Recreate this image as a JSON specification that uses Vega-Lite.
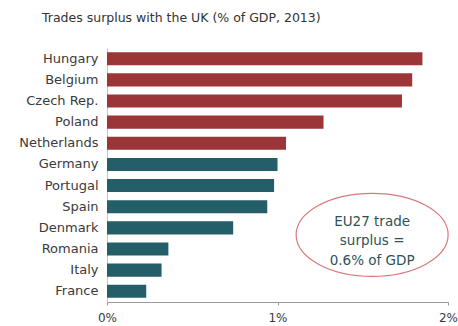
{
  "$schema": "https://vega.github.io/schema/vega-lite/v6.json",
  "width": 341,
  "height": 254,
  "autosize": "none",
  "padding": {"left": 107, "top": 48, "right": 10, "bottom": 24},
  "background": "white",
  "config": {"view": {"stroke": null}, "font": "DejaVu Sans"},
  "title": {
    "text": "Trades surplus with the UK (% of GDP, 2013)",
    "anchor": "start",
    "frame": "group",
    "dx": -65,
    "offset": 24,
    "fontSize": 12.5,
    "fontWeight": "normal",
    "color": "#333333"
  },
  "datasets": {
    "bars": [
      {"country": "Hungary", "value": 1.85, "group": "high"},
      {"country": "Belgium", "value": 1.79, "group": "high"},
      {"country": "Czech Rep.", "value": 1.73, "group": "high"},
      {"country": "Poland", "value": 1.27, "group": "high"},
      {"country": "Netherlands", "value": 1.05, "group": "high"},
      {"country": "Germany", "value": 1.0, "group": "low"},
      {"country": "Portugal", "value": 0.98, "group": "low"},
      {"country": "Spain", "value": 0.94, "group": "low"},
      {"country": "Denmark", "value": 0.74, "group": "low"},
      {"country": "Romania", "value": 0.36, "group": "low"},
      {"country": "Italy", "value": 0.32, "group": "low"},
      {"country": "France", "value": 0.23, "group": "low"}
    ],
    "note": [
      {"country": "Denmark", "value": 1.555, "label": ["EU27 trade", "surplus =", "0.6% of GDP"]}
    ]
  },
  "encoding": {
    "y": {
      "field": "country",
      "type": "nominal",
      "scale": {
        "domain": ["Hungary", "Belgium", "Czech Rep.", "Poland", "Netherlands", "Germany", "Portugal", "Spain", "Denmark", "Romania", "Italy", "France"],
        "paddingInner": 0.38,
        "paddingOuter": 0.2
      },
      "axis": {
        "title": null,
        "ticks": false,
        "labelFontSize": 13,
        "labelColor": "#3a3a3a",
        "labelPadding": 9,
        "domainColor": "#b8c8cc",
        "domainWidth": 1
      }
    },
    "x": {
      "field": "value",
      "type": "quantitative",
      "scale": {"domain": [0, 2], "nice": false},
      "axis": {
        "title": null,
        "values": [0, 1, 2],
        "labelExpr": "datum.value + '%'",
        "grid": false,
        "labelFontSize": 12,
        "labelColor": "#3a3a3a",
        "tickSize": 3,
        "tickColor": "#999999",
        "domainColor": "#999999",
        "labelPadding": 7,
        "labelFlush": false
      }
    }
  },
  "layer": [
    {
      "data": {"name": "bars"},
      "mark": {"type": "bar"},
      "encoding": {
        "color": {
          "field": "group",
          "type": "nominal",
          "scale": {"domain": ["high", "low"], "range": ["#9b3537", "#245e69"]},
          "legend": null
        }
      }
    },
    {
      "data": {"name": "note"},
      "mark": {
        "type": "point",
        "shape": "M -1 0 A 1 0.546 0 1 0 1 0 A 1 0.546 0 1 0 -1 0 Z",
        "size": 23104,
        "filled": false,
        "stroke": "#d9787c",
        "strokeWidth": 1.2,
        "opacity": 1,
        "yOffset": 7
      }
    },
    {
      "data": {"name": "note"},
      "mark": {
        "type": "text",
        "fontSize": 13.5,
        "lineHeight": 19.5,
        "color": "#2f5258",
        "align": "center",
        "baseline": "middle",
        "yOffset": -6
      },
      "encoding": {"text": {"field": "label"}}
    }
  ]
}
